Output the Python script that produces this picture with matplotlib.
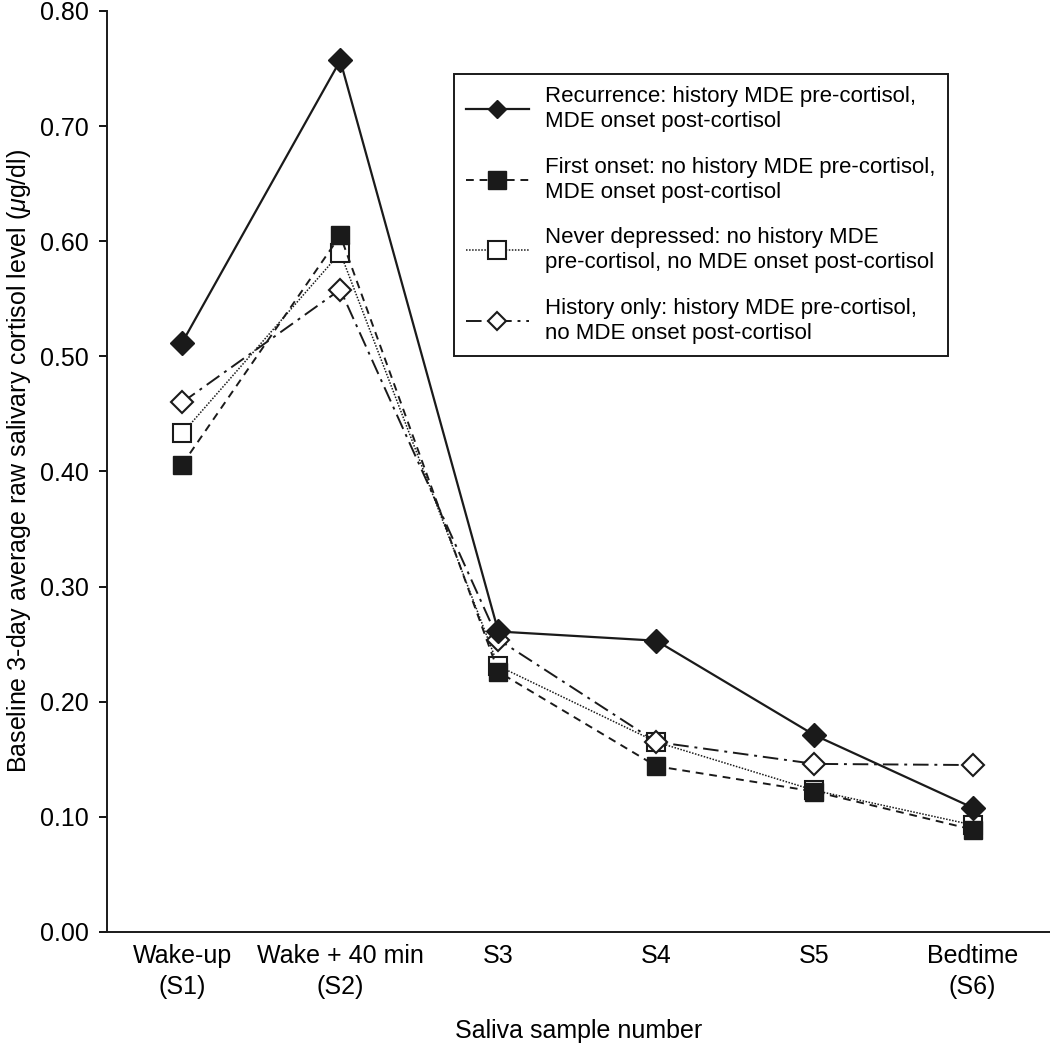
import matplotlib.pyplot as plt
plt.switch_backend('agg')
import numpy as np

samples = ["Wake-up\n(S1)", "Wake + 40 min\n(S2)", "S3", "S4", "S5", "Bedtime\n(S6)"]

recurrence = [0.512, 0.757, 0.261, 0.253, 0.171, 0.108]
first_onset = [0.406, 0.605, 0.226, 0.144, 0.122, 0.089]
never_depressed = [0.433, 0.590, 0.231, 0.165, 0.123, 0.093]
history_only = [0.460, 0.558, 0.254, 0.165, 0.146, 0.145]

labels = [
    "Recurrence: history MDE pre-cortisol,\nMDE onset post-cortisol",
    "First onset: no history MDE pre-cortisol,\nMDE onset post-cortisol",
    "Never depressed: no history MDE\npre-cortisol, no MDE onset post-cortisol",
    "History only: history MDE pre-cortisol,\nno MDE onset post-cortisol",
]

font = ['Liberation Sans', 'DejaVu Sans']
ink = '#1a1a1a'
plt.rcParams['font.family'] = font
plt.rcParams['mathtext.fontset'] = 'custom'
plt.rcParams['mathtext.it'] = 'Liberation Sans:italic'
plt.rcParams['mathtext.rm'] = 'Liberation Sans'

fig = plt.figure(figsize=(10.5, 10.44), dpi=100)
ax = fig.add_axes([0.102, 0.1073, 0.898, 0.8822])

x = np.arange(len(samples))

ax.plot(x, recurrence, color=ink, linestyle='-', linewidth=1.6,
        marker='D', markersize=12, markerfacecolor=ink, markeredgecolor=ink,
        label=labels[0], zorder=5)
ax.plot(x, first_onset, color=ink, linestyle=(0, (4, 3)), linewidth=1.4,
        marker='s', markersize=13, markerfacecolor=ink, markeredgecolor=ink,
        label=labels[1], zorder=4)
ax.plot(x, never_depressed, color=ink, linestyle=(0, (1, 1)), linewidth=1.1,
        marker='s', markersize=12.5, markerfacecolor='white', markeredgecolor=ink,
        markeredgewidth=1.5, label=labels[2], zorder=2)
ax.plot(x, history_only, color=ink, linestyle=(0, (8, 3, 1.5, 3)), linewidth=1.4,
        marker='D', markersize=11.5, markerfacecolor='white', markeredgecolor=ink,
        markeredgewidth=1.5, label=labels[3], zorder=3)

ax.set_xlim(-0.475, 5.49)
ax.set_ylim(0, 0.8)
yt = np.arange(0, 0.81, 0.1)
ax.set_yticks(yt)
ax.set_yticklabels(["%.2f" % v for v in yt], fontsize=18)
ax.set_xticks(x)
ax.set_xticklabels(samples, fontsize=18, linespacing=1.35)
ax.tick_params(axis='x', length=0, pad=9)
ax.tick_params(axis='y', length=6, width=1.3, direction='out', pad=7)

for s in ['top', 'right']:
    ax.spines[s].set_visible(False)
for s in ['left', 'bottom']:
    ax.spines[s].set_linewidth(1.4)
    ax.spines[s].set_color(ink)

ax.set_xlabel("Saliva sample number", fontsize=18, labelpad=14)
ax.set_ylabel(r"Baseline 3-day average raw salivary cortisol level ($\mu$g/dl)",
              fontsize=18)
ax.yaxis.set_label_coords(-0.079, 0.511)

leg = ax.legend(loc='upper left', bbox_to_anchor=(0.368, 0.9316),
                prop={'size': 16}, frameon=True, borderaxespad=0,
                fancybox=False, edgecolor=ink, framealpha=1,
                handlelength=2.8, handletextpad=0.75, labelspacing=1.1,
                borderpad=0.55)
leg.get_frame().set_linewidth(1.4)
for t in leg.get_texts():
    t.set_linespacing(1.25)
for h, ms in zip(leg.legend_handles, [9.5, 13, 13, 9.5]):
    h.set_markersize(ms)

fig.savefig("out.png", dpi=100)
